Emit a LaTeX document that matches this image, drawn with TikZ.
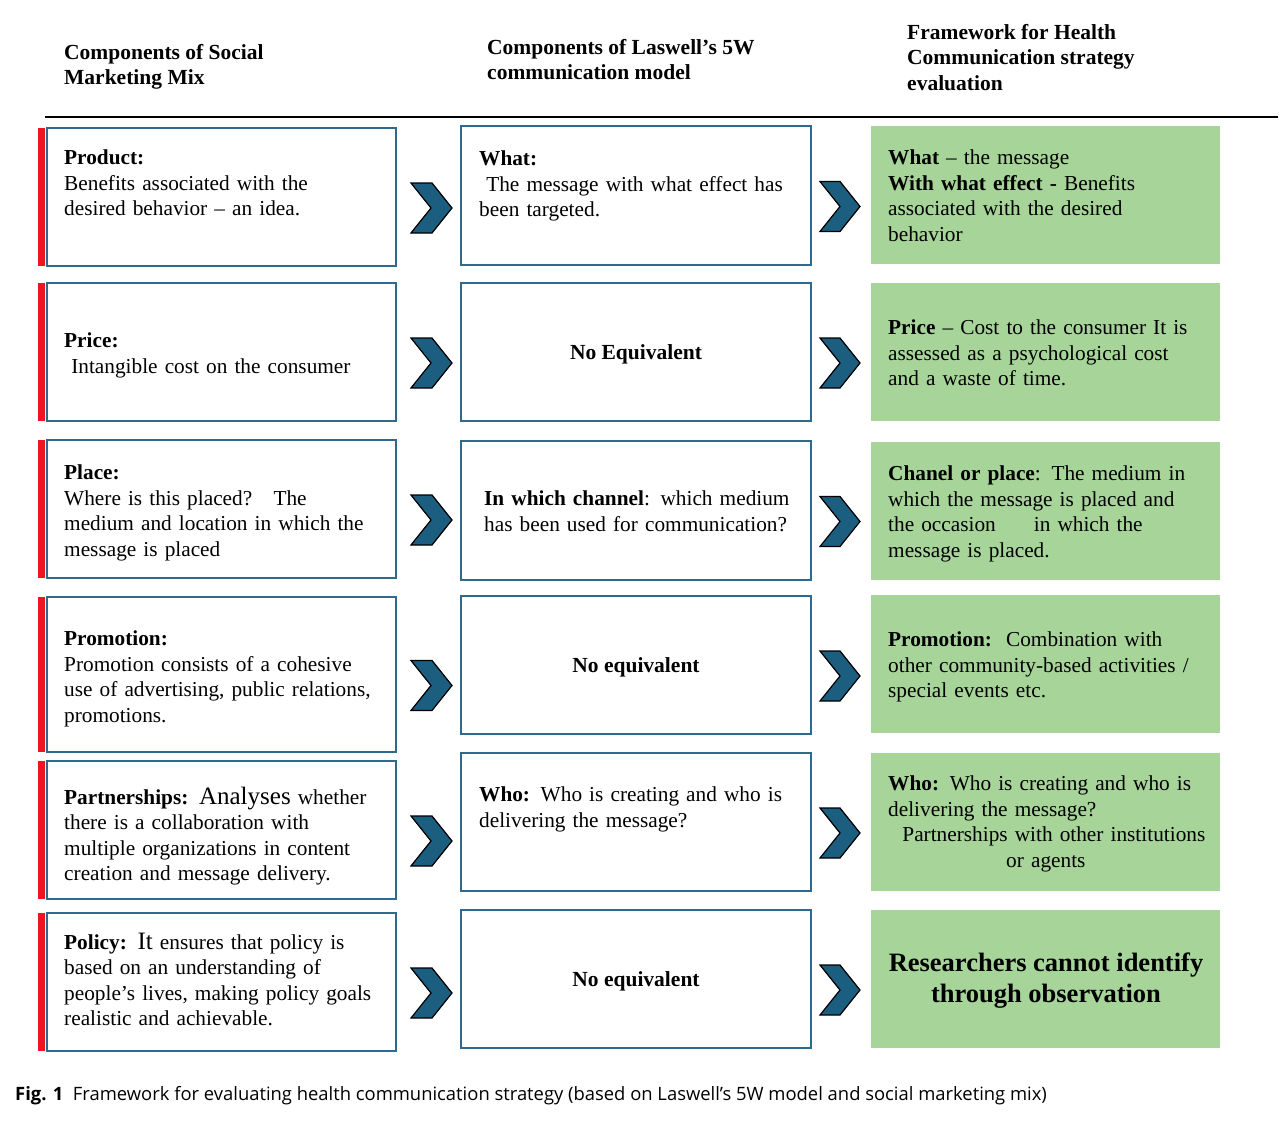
\documentclass[tikz,border=0pt]{standalone}
\usepackage{fontspec}
\setmainfont{Liberation Serif}
\newfontfamily\capfont{Open Sans}
\begin{document}
\begin{tikzpicture}[x=1pt,y=-1pt,
  bx/.style={draw=boxblue,line width=1.6pt},
  gb/.style={fill=green1},
  red/.style={fill=red1},
  chev/.style={fill=chevblue,draw=black,line width=1.2pt},
  txt/.style={anchor=north west,inner sep=0pt,align=left,font=\fontsize{21.3}{25.4}\selectfont},
  ctr/.style={inner sep=0pt,align=center,font=\fontsize{21.5}{25}\selectfont\bfseries},
  hd/.style={anchor=north west,inner sep=0pt,align=left,font=\fontsize{21.5}{25.5}\selectfont\bfseries}]
\definecolor{boxblue}{HTML}{2E6A8C}
\definecolor{green1}{HTML}{A6D499}
\definecolor{red1}{HTML}{F0141E}
\definecolor{chevblue}{HTML}{1C5E80}
\useasboundingbox (0,0) rectangle (1282,1120);
\fill[white] (0,0) rectangle (1282,1120);
% headers
\node[hd] (h1) at (64,44) {Components of Social\\Marketing Mix};
\node[hd] (h2) at (487,39) {Components of Laswell’s 5W\\communication model};
\node[hd] (h3) at (907,24) {Framework for Health\\Communication strategy\\evaluation};
\draw[line width=1.3pt] (45,117) -- (1278,117);
% rows: ltop lbot mtop mbot rtop rbot
\foreach \i/\lt/\lb/\mt/\mb/\rt/\rb in {1/128/266/126/265/126/264,2/283/421/283/421/283/421,3/440/578/441/580/442/580,4/597/752/596/734/595/733,5/761/899/753/891/753/891,6/913/1051/910/1048/910/1048}{
  \fill[red] (38,\lt) rectangle (45,\lb);
  \draw[bx] (47,\lt) rectangle (396,\lb);
  \draw[bx] (461,\mt) rectangle (811,\mb);
  \fill[gb] (871,\rt) rectangle (1220,\rb);
  \pgfmathsetmacro{\cl}{(\lt+\lb)/2+11}
  \pgfmathsetmacro{\cm}{(\mt+\mb)/2+11}
  \draw[chev] (411,\cl-25) -- (432,\cl-25) -- (452,\cl) -- (432,\cl+25) -- (411,\cl+25) -- (431,\cl) -- cycle;
  \draw[chev] (820,\cm-25) -- (840,\cm-25) -- (860,\cm) -- (840,\cm+25) -- (820,\cm+25) -- (840,\cm) -- cycle;
}
% left column
\node[txt,text width=340pt] (l1) at (64,150) {\textbf{Product:}\\Benefits associated with the\\desired behavior – an idea.};
\node[txt,text width=340pt] (l2) at (64,333) {\textbf{Price:}\\\ Intangible cost on the consumer};
\node[txt,text width=340pt] (l3) at (64,465) {\textbf{Place:}\\Where is this placed?\ \ \ The\\medium and location in which the\\message is placed};
\node[txt,text width=340pt] (l4) at (64,631) {\textbf{Promotion:}\\Promotion consists of a cohesive\\use of advertising, public relations,\\promotions.};
\node[txt,text width=340pt] (l5) at (64,787) {\textbf{Partnerships:} {\fontsize{25}{25}\selectfont Analyses} whether\\there is a collaboration with\\multiple organizations in content\\creation and message delivery.};
\node[txt,text width=340pt] (l6) at (64,933) {\textbf{Policy:} {\fontsize{25}{25}\selectfont It} ensures that policy is\\based on an understanding of\\people's lives, making policy goals\\realistic and achievable.};
% middle column
\node[txt,text width=345pt] (m1) at (479,151) {\textbf{What:}\\\ The message with what effect has\\been targeted.};
\node[ctr] (m2) at (636,354) {No Equivalent};
\node[txt,text width=345pt] (m3) at (484,491) {\textbf{In which channel}: which medium\\has been used for communication?};
\node[ctr] (m4) at (636,667) {No equivalent};
\node[txt,text width=345pt] (m5) at (479,787) {\textbf{Who:} Who is creating and who is\\delivering the message?};
\node[ctr] (m6) at (636,981) {No equivalent};
% right column
\node[txt,text width=345pt] (r1) at (888,150) {\textbf{What} – the message\\\textbf{With what effect -} Benefits\\associated with the desired\\behavior};
\node[txt,text width=345pt] (r2) at (888,320) {\textbf{Price} – Cost to the consumer It is\\assessed as a psychological cost\\and a waste of time.};
\node[txt,text width=345pt] (r3) at (888,466) {\textbf{Chanel or place}: The medium in\\which the message is placed and\\the occasion\hspace*{38pt}in which the\\message is placed.};
\node[txt,text width=345pt] (r4) at (888,632) {\textbf{Promotion:}\ \ Combination with\\other community-based activities /\\special events etc.};
\node[txt,text width=345pt] (r5) at (888,776) {\textbf{Who:} Who is creating and who is\\delivering the message?\\\ \ Partnerships with other institutions\\\hspace*{118pt}or agents};
\node[inner sep=0pt,align=center,font=\fontsize{26.5}{31}\selectfont\bfseries] (r6) at (1046,981) {Researchers cannot identify\\through observation};
% caption
\node[anchor=west,inner sep=0pt,font=\capfont\fontsize{18.4}{22}\selectfont] (cap) at (15,1096) {\textbf{Fig. 1}\ \ Framework for evaluating health communication strategy (based on Laswell’s 5W model and social marketing mix)};
\end{tikzpicture}
\end{document}
